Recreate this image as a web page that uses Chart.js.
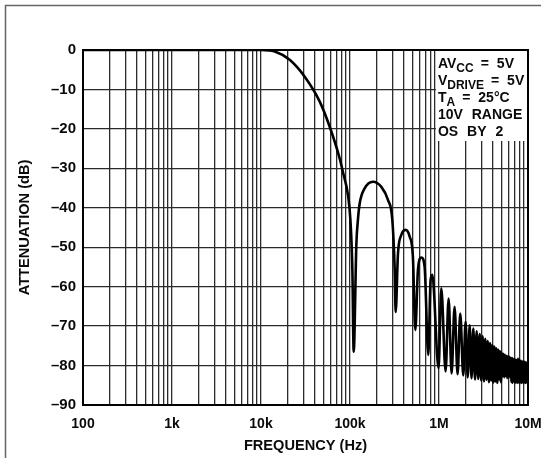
<!DOCTYPE html>
<html>
<head>
<meta charset="utf-8">
<script src="https://cdn.jsdelivr.net/npm/chart.js@4.4.1/dist/chart.umd.min.js"></script>
<style>
  html, body { margin: 0; padding: 0; background: #fff; }
  #wrap { width: 541px; height: 458px; }
</style>
</head>
<body>
<div id="wrap"><canvas id="chart" width="541" height="458"></canvas></div>
<script>
// response, resolved lobes (Hz, dB)
const sweepHz = [
  100, 1000, 5000, 10000, 14300, 21000, 31000, 45700, 59000, 76600, 83400, 95200, 101000, 106400, 110000,
  118000, 123000, 128500, 146000, 181000, 225000, 267000, 299000, 318000, 326000,
  346000, 377000, 422000, 468000, 509000, 542000,
  580000, 633000, 689000, 758000,
  805000, 841000, 989000,
  1061000, 1186000, 1282000, 1385000, 1496000, 1617000, 1733000, 1874000, 1990000
];
const sweepDb = [
  0, 0, 0, 0, -0.4, -2.5, -6.8, -13.1, -19.4, -27.5, -31, -37, -43, -56, -76.5,
  -49, -42.8, -38.9, -35.1, -33.4, -34.7, -38, -43.1, -55.8, -66.4,
  -51.6, -46.9, -45.6, -47.3, -52.4, -71,
  -55.8, -52.6, -54.9, -77.3,
  -58.3, -57, -80.7,
  -60.4, -81.5, -63, -82, -65.1, -82.2, -66.8, -82.5, -68.9
];

// dense ripple band above 2 MHz (MHz, dB)
const tailMHz = [
  2.10, 2.21, 2.32, 2.43, 2.54, 2.65, 2.76, 2.87, 2.98, 3.09,
  3.20, 3.31, 3.42, 3.53, 3.64, 3.75, 3.86, 3.97, 4.08, 4.19,
  4.30, 4.41, 4.52, 4.63, 4.74, 4.85, 4.96, 5.07, 5.18, 5.29,
  5.40, 5.51, 5.62, 5.73, 5.84, 5.95, 6.06, 6.17, 6.28, 6.39,
  6.50, 6.61, 6.72, 6.83, 6.94, 7.05, 7.16, 7.27, 7.38, 7.49,
  7.60, 7.71, 7.82, 7.93, 8.04, 8.15, 8.26, 8.37, 8.48, 8.59,
  8.70, 8.81, 8.92, 9.03, 9.14, 9.25, 9.36, 9.47, 9.58, 9.69,
  9.80, 9.91, 10.0
];
const tailDb = [
  -83, -69.8, -83.2, -70.6, -83.5, -71.3, -83.4, -72, -83.8, -72.6,
  -84, -73.2, -83.6, -73.8, -84.2, -74.3, -83.8, -74.8, -84.3, -75.2,
  -84, -75.6, -84.4, -76, -83.5, -76.4, -84.2, -76.7, -82.8, -77,
  -83, -77.2, -82.7, -77.5, -83.2, -77.6, -82.8, -77.8, -83, -78,
  -84.2, -78.1, -84.4, -78.3, -84, -78.4, -84.4, -78.5, -84.3, -78.6,
  -84.4, -78.2, -84.2, -78.4, -84.4, -78.7, -84.3, -78.8, -84.4, -79,
  -84.2, -78.9, -84.4, -79, -84.3, -79.1, -84.4, -79.2, -84.2, -79.3,
  -84.4, -79.2, -82
];

const decades = [100, 1e3, 1e4, 1e5, 1e6, 1e7];
const decadeLabels = ['100', '1k', '10k', '100k', '1M', '10M'];

// conditions box: [main, subscript, value after "="]
const noteLines = [
  ['AV', 'CC', '5V'],
  ['V', 'DRIVE', '5V'],
  ['T', 'A', '25°C'],
  ['10V RANGE', '', ''],
  ['OS BY 2', '', '']
];

const family = '"Liberation Sans", Arial, Helvetica, sans-serif';
const ink = '#0a0a0a';

const points = [];
sweepHz.forEach((f, i) => points.push({ x: f, y: sweepDb[i] }));
tailMHz.forEach((f, i) => points.push({ x: f * 1e6, y: tailDb[i] }));

// 1..9 per decade for the log grid
const gridValues = [];
decades.forEach(d => {
  for (let k = 1; k <= 9; k++) {
    if (d * k <= 1e7) gridValues.push(d * k);
  }
});

const frame = {
  id: 'frame',
  beforeDraw(chart) {
    const ctx = chart.ctx;
    ctx.save();
    ctx.fillStyle = '#fff';
    ctx.fillRect(0, 0, chart.width, chart.height);
    ctx.strokeStyle = '#666';
    ctx.lineWidth = 1.5;
    ctx.beginPath();
    ctx.moveTo(5.5, chart.height);
    ctx.lineTo(5.5, 5.5);
    ctx.lineTo(chart.width, 5.5);
    ctx.stroke();
    ctx.restore();
  },
  beforeDatasetsDraw(chart) {
    const { ctx, chartArea: a } = chart;
    const boxLeft = chart.scales.x.getPixelForValue(9e5) + 1;
    ctx.save();
    ctx.fillStyle = '#fff';
    ctx.fillRect(boxLeft, a.top + 1, a.right - boxLeft - 1, 90);

    ctx.fillStyle = ink;
    ctx.textBaseline = 'alphabetic';
    if ('wordSpacing' in ctx) ctx.wordSpacing = '5px';
    noteLines.forEach((ln, i) => {
      const y = a.top + 17.7 + i * 17.1;
      let x = boxLeft + 2;
      ctx.font = 'bold 14px ' + family;
      ctx.fillText(ln[0], x, y);
      x += ctx.measureText(ln[0]).width;
      if (ln[1]) {
        ctx.font = 'bold 12px ' + family;
        ctx.fillText(ln[1], x, y + 4);
        x += ctx.measureText(ln[1]).width + 7;
        ctx.font = 'bold 14px ' + family;
        ctx.fillText('=', x, y);
        x += ctx.measureText('=').width + 8;
        ctx.fillText(ln[2], x, y);
      }
    });
    ctx.restore();
  },
  afterDraw(chart) {
    const { ctx, chartArea: a } = chart;
    ctx.save();
    ctx.strokeStyle = '#000';
    ctx.lineWidth = 2;
    ctx.strokeRect(a.left, a.top, a.right - a.left, a.bottom - a.top);
    ctx.restore();
  }
};

new Chart(document.getElementById('chart'), {
  type: 'line',
  data: {
    datasets: [{
      data: points,
      borderColor: '#000',
      borderWidth: 2.6,
      pointRadius: 0,
      cubicInterpolationMode: 'monotone',
      fill: false
    }]
  },
  options: {
    responsive: false,
    animation: false,
    devicePixelRatio: 1,
    layout: { padding: { top: 50, right: 13, bottom: 0, left: 0 } },
    plugins: { legend: { display: false }, tooltip: { enabled: false } },
    scales: {
      x: {
        type: 'logarithmic',
        min: 100,
        max: 1e7,
        afterBuildTicks: s => { s.ticks = gridValues.map(v => ({ value: v })); },
        afterFit: s => {
          s.height = 53;
          s.paddingLeft = 0;
          s.paddingRight = 0;
        },
        grid: { color: '#2b2b2b', lineWidth: 1.3, drawTicks: false },
        border: { display: false },
        ticks: {
          autoSkip: false,
          maxRotation: 0,
          padding: 11,
          color: ink,
          font: { family, size: 14, weight: 'bold' },
          callback: v => {
            const i = decades.indexOf(v);
            return i < 0 ? '' : decadeLabels[i];
          }
        },
        title: {
          display: true,
          text: 'FREQUENCY (Hz)',
          color: ink,
          font: { family, size: 14.6, weight: 'bold' },
          padding: { top: 0, bottom: 3 }
        }
      },
      y: {
        min: -90,
        max: 0,
        afterFit: s => { s.width = 83; },
        grid: { color: '#2b2b2b', lineWidth: 1.3, drawTicks: false },
        border: { display: false },
        ticks: {
          stepSize: 10,
          padding: 7,
          color: ink,
          font: { family, size: 15, weight: 'bold' },
          callback: v => v === 0 ? '0' : '\u2013' + Math.abs(v)
        },
        title: {
          display: true,
          text: 'ATTENUATION (dB)',
          color: ink,
          font: { family, size: 14.6, weight: 'bold' },
          padding: { top: 16, bottom: 0 }
        }
      }
    }
  },
  plugins: [frame]
});
</script>
</body>
</html>
